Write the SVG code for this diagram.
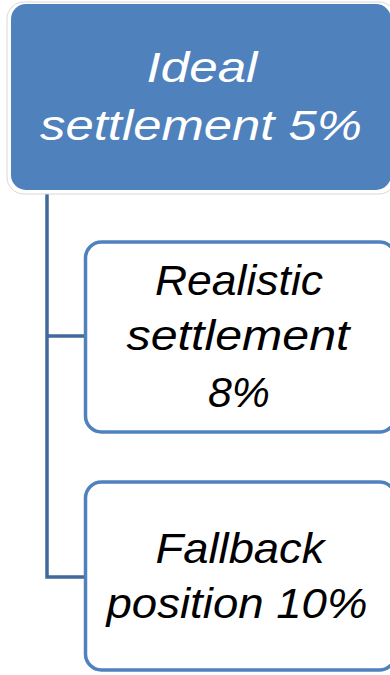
<svg xmlns="http://www.w3.org/2000/svg" width="390" height="675" viewBox="0 0 390 675">
<style>
.t{font-family:"Liberation Sans","Open Sans",sans-serif;font-style:italic;font-size:43px;text-anchor:middle}
.w{fill:#ffffff}
.k{fill:#000000}
.child{fill:#ffffff;stroke:#4f81bd;stroke-width:3.5}
.conn{fill:none;stroke:#41699b;stroke-width:3.5}
</style>
<rect width="390" height="675" fill="#ffffff"/>
<g id="connectors">
<path class="conn" d="M47,193 V577 H86"/>
<path class="conn" d="M47,336 H86"/>
</g>
<g id="root">
<rect x="7" y="2" width="389" height="192" rx="17" fill="#ffffff" stroke="#d8d8d8" stroke-width="1"/>
<rect x="11" y="4" width="380" height="186" rx="15" fill="#4f81bd"/>
<text class="t w" x="202" y="82" textLength="111" lengthAdjust="spacingAndGlyphs">Ideal</text>
<text class="t w" x="201" y="140" textLength="322" lengthAdjust="spacingAndGlyphs">settlement 5%</text>
</g>
<g id="realistic">
<rect class="child" x="85.5" y="242" width="310" height="190" rx="16"/>
<text class="t k" x="239" y="295" textLength="168" lengthAdjust="spacingAndGlyphs">Realistic</text>
<text class="t k" x="238" y="350" textLength="223" lengthAdjust="spacingAndGlyphs">settlement</text>
<text class="t k" x="239" y="407" textLength="62" lengthAdjust="spacingAndGlyphs">8%</text>
</g>
<g id="fallback">
<rect class="child" x="85.5" y="482" width="310" height="188" rx="16"/>
<text class="t k" x="240" y="563" textLength="169" lengthAdjust="spacingAndGlyphs">Fallback</text>
<text class="t k" x="237" y="618" textLength="261" lengthAdjust="spacingAndGlyphs">position 10%</text>
</g>
</svg>
